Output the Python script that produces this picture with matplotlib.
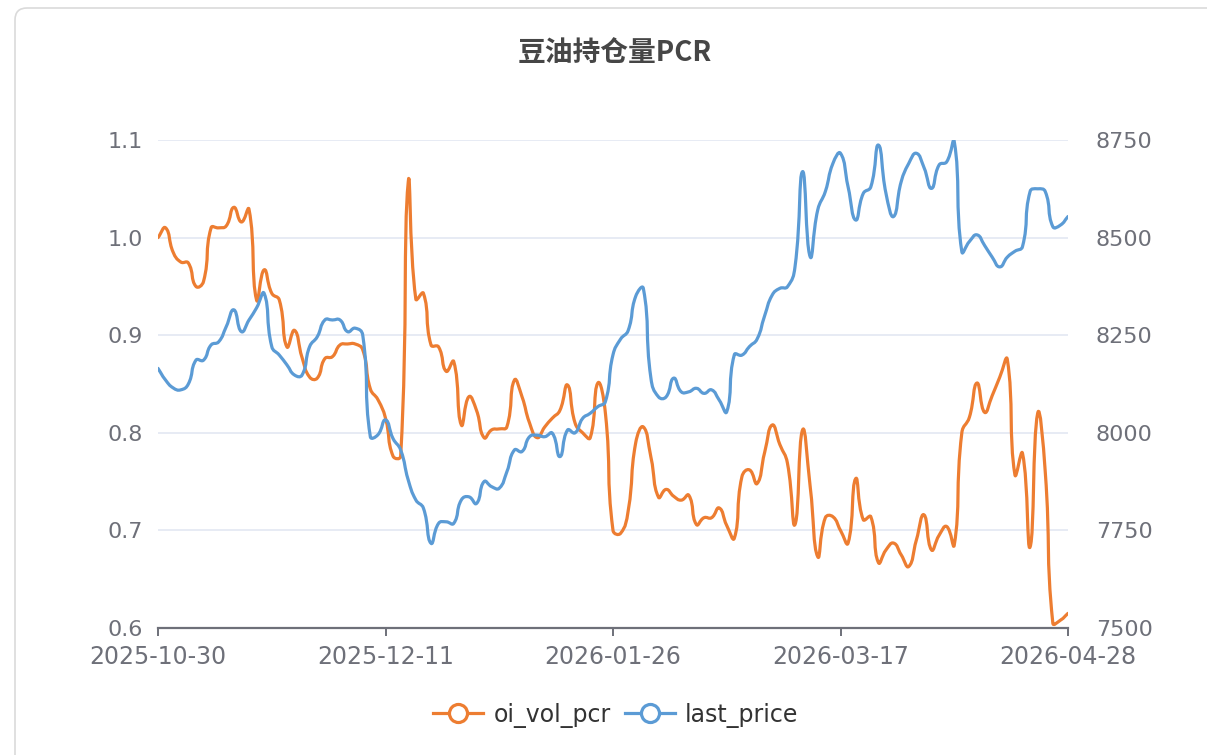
import matplotlib

matplotlib.use("Agg")

import matplotlib.pyplot as plt
import numpy as np
from matplotlib.lines import Line2D
from matplotlib.patches import FancyBboxPatch, PathPatch
from matplotlib.path import Path

plt.rcParams["font.family"] = ["DejaVu Sans", "Noto Sans CJK SC"]

TITLE = "豆油持仓量PCR"
SERIES_NAMES = ["oi_vol_pcr", "last_price"]
X_TICK_POS = [0, 30, 60, 90, 120]
X_TICK_LABELS = ["2025-10-30", "2025-12-11", "2026-01-26", "2026-03-17", "2026-04-28"]
LEFT_TICKS = [0.6, 0.7, 0.8, 0.9, 1.0, 1.1]
RIGHT_TICKS = [7500, 7750, 8000, 8250, 8500, 8750]

# oi_vol_pcr, one value per trading day (121 days)
PCR = [
    1.000, 1.010, 0.985, 0.975, 0.974, 0.950, 0.955, 1.010, 1.010, 1.012,
    1.031, 1.016, 1.029, 0.936, 0.967, 0.943, 0.936, 0.888, 0.905, 0.877,
    0.857, 0.856, 0.876, 0.878, 0.890, 0.891, 0.891, 0.885, 0.845, 0.834,
    0.815, 0.776, 0.776, 1.057, 0.937, 0.943, 0.890, 0.888, 0.863, 0.873,
    0.808, 0.837, 0.823, 0.795, 0.803, 0.804, 0.806, 0.854, 0.837, 0.810,
    0.795, 0.806, 0.815, 0.823, 0.849, 0.810, 0.800, 0.795, 0.851, 0.820,
    0.700, 0.697, 0.720, 0.790, 0.806, 0.775, 0.734, 0.742, 0.735, 0.731,
    0.736, 0.706, 0.713, 0.713, 0.723, 0.705, 0.692, 0.755, 0.762, 0.748,
    0.780, 0.808, 0.788, 0.769, 0.706, 0.803, 0.745, 0.673, 0.713, 0.714,
    0.700, 0.687, 0.753, 0.711, 0.714, 0.667, 0.680, 0.687, 0.675, 0.663,
    0.690, 0.716, 0.680, 0.695, 0.704, 0.685, 0.800, 0.816, 0.851, 0.821,
    0.838, 0.857, 0.875, 0.757, 0.779, 0.683, 0.820, 0.760, 0.605, 0.608,
    0.615,
]

# last_price, same days
PRICE = [
    8165, 8135, 8115, 8110, 8125, 8186, 8186, 8225, 8233, 8272,
    8315, 8259, 8289, 8320, 8357, 8221, 8199, 8174, 8148, 8148,
    8221, 8246, 8289, 8289, 8289, 8259, 8268, 8250, 7990, 7995,
    8033, 7985, 7956, 7879, 7828, 7807, 7717, 7768, 7772, 7768,
    7828, 7836, 7819, 7875, 7862, 7858, 7900, 7956, 7952, 7990,
    7994, 7990, 7999, 7939, 8007, 8000, 8037, 8050, 8067, 8080,
    8200, 8240, 8262, 8350, 8370, 8140, 8092, 8092, 8140, 8105,
    8105, 8114, 8101, 8110, 8084, 8054, 8200, 8199, 8221, 8240,
    8300, 8353, 8370, 8374, 8425, 8669, 8451, 8571, 8618, 8690,
    8716, 8630, 8545, 8613, 8630, 8737, 8613, 8554, 8643, 8690,
    8716, 8680, 8626, 8686, 8694, 8746, 8464, 8490, 8507, 8480,
    8450, 8425, 8450, 8465, 8477, 8618, 8625, 8618, 8528, 8532,
    8554,
]

ORANGE = "#ED7D31"
BLUE = "#5B9BD5"
TEXT_GRAY = "#6E7079"
GRID = "#E0E6F1"
LINE_W = 2.3


def smooth_line(ax, ys, color, smooth=0.5, z=3):
    # cubic bezier through every point, control points as in echarts smooth lines
    xs = np.arange(len(ys))
    pts = ax.transData.transform(np.column_stack([xs, ys]))
    n = len(pts)
    verts = [pts[0]]
    codes = [Path.MOVETO]
    out_cp = []
    in_cp = []
    for i in range(n):
        prev = pts[max(i - 1, 0)]
        nxt = pts[min(i + 1, n - 1)]
        v = (nxt - prev) * smooth
        lp = np.hypot(*(pts[i] - prev))
        ln = np.hypot(*(nxt - pts[i]))
        tot = lp + ln if lp + ln > 0 else 1.0
        in_cp.append(pts[i] - v * lp / tot)
        out_cp.append(pts[i] + v * ln / tot)
    for i in range(1, n):
        verts += [out_cp[i - 1], in_cp[i], pts[i]]
        codes += [Path.CURVE4] * 3
    data_verts = ax.transData.inverted().transform(np.array(verts))
    patch = PathPatch(Path(data_verts, codes), facecolor="none", edgecolor=color,
                      lw=LINE_W, capstyle="round", joinstyle="round", zorder=z)
    ax.add_patch(patch)


fig = plt.figure(figsize=(12.07, 7.55), dpi=100)
fig.patch.set_facecolor("white")

card = FancyBboxPatch((15, -60), 1300, 807, boxstyle="round,pad=0,rounding_size=12",
                      transform=None, facecolor="white", edgecolor="#DADADA", lw=1.2,
                      zorder=-5)
fig.add_artist(card)

ax = fig.add_axes([158 / 1207, 1 - 628 / 755, (1068 - 158) / 1207, (628 - 140) / 755])
ax2 = ax.twinx()
ax.set_zorder(1)
ax2.set_zorder(2)
ax2.patch.set_visible(False)

ax.set_xlim(0, len(PCR) - 1)
ax.set_ylim(0.6, 1.1)
ax2.set_ylim(7500, 8750)

for t in LEFT_TICKS[1:]:
    ax.axhline(t, color=GRID, lw=1.1, zorder=0)

ax.set_yticks(LEFT_TICKS)
ax.set_yticklabels([f"{t:.1f}" for t in LEFT_TICKS])
ax2.set_yticks(RIGHT_TICKS)
ax2.set_yticklabels([str(t) for t in RIGHT_TICKS])
ax.set_xticks(X_TICK_POS)
ax.set_xticklabels(X_TICK_LABELS)

for a in (ax, ax2):
    for s in a.spines.values():
        s.set_visible(False)
ax.spines["bottom"].set_visible(True)
ax.spines["bottom"].set_color(TEXT_GRAY)
ax.spines["bottom"].set_linewidth(1.6)

ax.tick_params(axis="y", length=0, pad=11, labelsize=16, labelcolor=TEXT_GRAY)
ax2.tick_params(axis="y", length=0, pad=20, labelsize=16, labelcolor=TEXT_GRAY)
ax.tick_params(axis="x", length=6, width=1.4, color=TEXT_GRAY, pad=6,
               labelsize=17, labelcolor=TEXT_GRAY)

smooth_line(ax, PCR, ORANGE)
smooth_line(ax2, PRICE, BLUE)

fig.text(615 / 1207, 1 - 53 / 755, TITLE, ha="center", va="center", fontsize=20,
         fontweight="bold", color="#464646", family=["Noto Sans CJK SC", "DejaVu Sans"])

handles = [
    Line2D([], [], color=ORANGE, lw=LINE_W, marker="o", markersize=13,
           markerfacecolor="white", markeredgewidth=LINE_W, markeredgecolor=ORANGE),
    Line2D([], [], color=BLUE, lw=LINE_W, marker="o", markersize=13,
           markerfacecolor="white", markeredgewidth=LINE_W, markeredgecolor=BLUE),
]
leg = fig.legend(handles, SERIES_NAMES, loc="center", bbox_to_anchor=(616 / 1207, 1 - 715 / 755),
                 ncol=2, frameon=False, fontsize=17, handlelength=2.1, handletextpad=0.45,
                 columnspacing=0.6)
for t in leg.get_texts():
    t.set_color("#333333")

fig.savefig("out.png", dpi=100)
